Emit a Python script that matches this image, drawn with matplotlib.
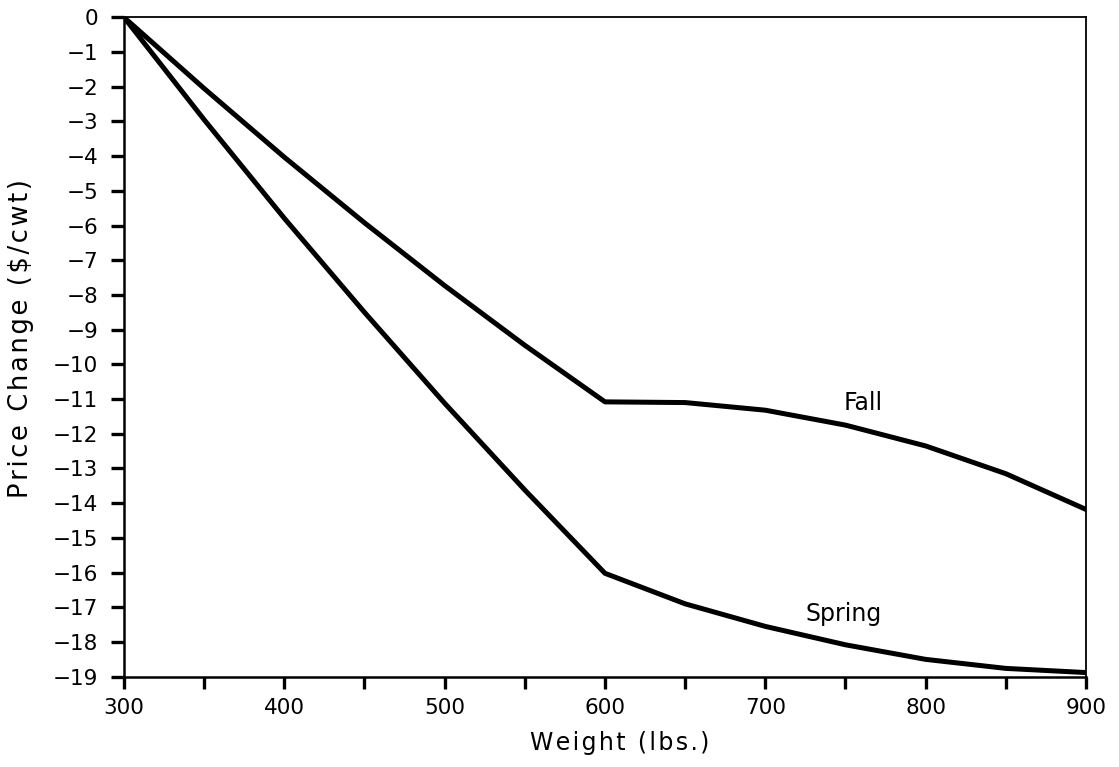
import matplotlib
matplotlib.use("Agg")
import matplotlib.pyplot as plt

weight = [300, 350, 400, 450, 500, 550, 600, 650, 700, 750, 800, 850, 900]
fall = [0.0, -2.05, -4.03, -5.92, -7.73, -9.45, -11.08, -11.10, -11.32, -11.75, -12.35, -13.15, -14.18]
spring = [0.0, -2.95, -5.79, -8.50, -11.12, -13.62, -16.02, -16.90, -17.55, -18.08, -18.50, -18.76, -18.88]

xticks = [300, 350, 400, 450, 500, 550, 600, 650, 700, 750, 800, 850, 900]
xticklabels = ["300", "", "400", "", "500", "", "600", "", "700", "", "800", "", "900"]
yticks = list(range(0, -20, -1))

plt.rcParams['font.family'] = ['DejaVu Sans']
plt.rcParams['axes.unicode_minus'] = True


def spaced(s, sep):
    return sep.join(list(s))


fig = plt.figure(figsize=(11.19, 7.67), dpi=100)
ax = fig.add_axes([0.1108, 0.1177, 0.8597, 0.8597])

ax.plot(weight, fall, color='black', lw=3.6, solid_joinstyle='round', solid_capstyle='round')
ax.plot(weight, spring, color='black', lw=3.6, solid_joinstyle='round', solid_capstyle='round')

ax.text(761, -11.32, "Fall", fontsize=17, ha='center', va='baseline')
ax.text(748.6, -17.39, "Spring", fontsize=17, ha='center', va='baseline')

ax.set_xlim(300, 900)
ax.set_ylim(-19, 0)
ax.set_xticks(xticks)
ax.set_xticklabels(xticklabels)
ax.set_yticks(yticks)
ax.set_yticklabels([("\u2212%d" % (-v)) if v < 0 else "0" for v in yticks])

ax.tick_params(axis='y', direction='out', length=9.5, width=2.4, labelsize=15.5, pad=9)
ax.tick_params(axis='x', direction='out', length=8.5, width=2.4, labelsize=15.5, pad=7)

for side in ['left', 'bottom']:
    ax.spines[side].set_linewidth(1.8)
for side in ['top', 'right']:
    ax.spines[side].set_linewidth(1.3)

ax.set_xlabel(spaced("Weight (lbs.)", "\u200a"), fontsize=17)
ax.set_ylabel(spaced("Price Change ($/cwt)", "\u200a"), fontsize=18.5)
ax.xaxis.set_label_coords(0.5156, -0.083)
ax.yaxis.set_label_coords(-0.094, 0.513)

fig.savefig("out.png", dpi=100)
